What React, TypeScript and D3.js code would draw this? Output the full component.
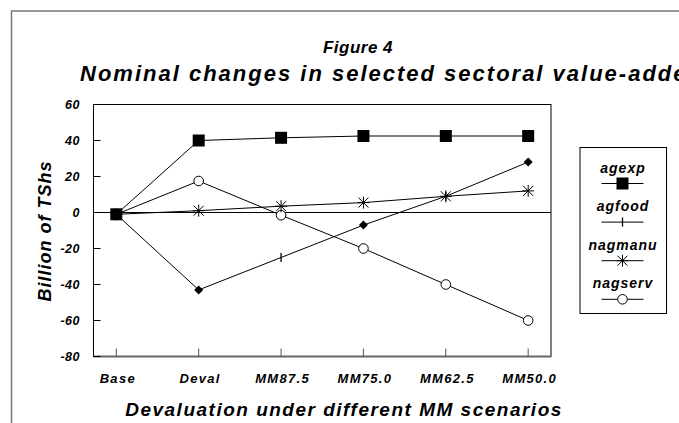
import React from "react";
import * as d3 from "d3";

const categories = ["Base", "Deval", "MM87.5", "MM75.0", "MM62.5", "MM50.0"];
const agexp = [-1, 40, 41.5, 42.5, 42.5, 42.5];
const agfood = [-1, -43, -25, -7, 9, 28];
const agfoodMarkers = ["tick", "diamond", "tick", "diamond", "tick", "diamond"];
const nagmanu = [-1, 1, 3.5, 5.5, 9, 12];
const nagserv = [-1, 17.5, -1.5, -20, -40, -60];
const yTicks = [60, 40, 20, 0, -20, -40, -60, -80];
const legendNames = ["agexp", "agfood", "nagmanu", "nagserv"];
const legendMarkers = ["square", "tick", "star", "circle"];

const W = 679;
const H = 423;
const plot = { left: 93.5, right: 551, top: 104.5, bottom: 356.5 };
const FONT = "'Liberation Sans', Arial, sans-serif";

function Marker({ type, x, y }: { type: string; x: number; y: number }) {
  if (type === "square") return <rect x={x - 6} y={y - 6} width={12} height={12} fill="#000" />;
  if (type === "diamond")
    return <path d={`M${x},${y - 4.5}L${x + 4.5},${y}L${x},${y + 4.5}L${x - 4.5},${y}Z`} fill="#000" />;
  if (type === "tick") return <line x1={x} x2={x} y1={y - 4.5} y2={y + 4.5} stroke="#000" strokeWidth={1.3} />;
  if (type === "circle") return <circle cx={x} cy={y} r={4.8} fill="#fff" stroke="#000" strokeWidth={1} />;
  if (type === "star")
    return (
      <g stroke="#000" strokeWidth={1}>
        <line x1={x - 6} x2={x + 6} y1={y} y2={y} />
        <line x1={x - 5} x2={x + 5} y1={y - 5} y2={y + 5} />
        <line x1={x - 5} x2={x + 5} y1={y + 5} y2={y - 5} />
        <line x1={x} x2={x} y1={y - 6} y2={y + 6} />
      </g>
    );
  return null;
}

export default function App() {
  const x = d3.scalePoint<string>().domain(categories).range([plot.left, plot.right]).padding(0.277);
  const y = d3.scaleLinear().domain([-80, 60]).range([plot.bottom, plot.top]);
  const line = d3
    .line<number>()
    .x((_, i) => x(categories[i]) as number)
    .y((d) => y(d));

  const series = [
    { name: "agexp", values: agexp, markers: categories.map(() => "square") },
    { name: "agfood", values: agfood, markers: agfoodMarkers },
    { name: "nagmanu", values: nagmanu, markers: categories.map(() => "star") },
    { name: "nagserv", values: nagserv, markers: categories.map(() => "circle") },
  ];
  const drawOrder = [3, 2, 1, 0];

  const textStyle = { fontFamily: FONT, fontWeight: 700, fontStyle: "italic" as const };

  return (
    <svg width={W} height={H} style={{ position: "absolute", left: 0, top: 0, background: "#fff" }}>
      <rect x={0} y={0} width={W} height={H} fill="#fff" />
      {/* outer frame */}
      <rect x={11.5} y={11} width={W + 20} height={H + 20} fill="none" stroke="#777" strokeWidth={1.5} />

      {/* titles */}
      <text x={358} y={53} textAnchor="middle" fontSize={17} letterSpacing={0.5} style={textStyle}>
        Figure 4
      </text>
      <text x={80} y={81} fontSize={22} letterSpacing={2} style={textStyle}>
        Nominal changes in selected sectoral value-added
      </text>

      {/* plot frame */}
      <rect
        x={plot.left}
        y={plot.top}
        width={plot.right - plot.left}
        height={plot.bottom - plot.top}
        fill="none"
        stroke="#000"
        strokeWidth={1}
      />
      <line x1={plot.left} x2={plot.right} y1={plot.bottom} y2={plot.bottom} stroke="#666" strokeWidth={2} />
      <line x1={plot.left} x2={plot.right} y1={y(0)} y2={y(0)} stroke="#000" strokeWidth={1} />

      {/* y axis ticks and labels */}
      {yTicks.map((t) => (
        <g key={t}>
          <line x1={plot.left} x2={plot.left + 7} y1={y(t)} y2={y(t)} stroke="#000" strokeWidth={1} />
          <text x={80} y={y(t) + 4} textAnchor="end" fontSize={12.5} letterSpacing={0.5} style={textStyle}>
            {t}
          </text>
        </g>
      ))}

      {/* x axis ticks and labels */}
      {categories.map((c) => (
        <g key={c}>
          <line x1={x(c)} x2={x(c)} y1={plot.bottom} y2={plot.bottom - 8} stroke="#555" strokeWidth={1} />
          <text x={(x(c) as number) + 1.5} y={383} textAnchor="middle" fontSize={13} letterSpacing={1.3} style={textStyle}>
            {c}
          </text>
        </g>
      ))}

      {/* axis titles */}
      <text x={344} y={416} textAnchor="middle" fontSize={19} letterSpacing={1.5} style={textStyle}>
        Devaluation under different MM scenarios
      </text>
      <text
        transform={`translate(51,231) rotate(-90)`}
        textAnchor="middle"
        fontSize={18}
        letterSpacing={1}
        style={textStyle}
      >
        Billion of TShs
      </text>

      {/* series */}
      {drawOrder.map((si) => {
        const s = series[si];
        return (
          <g key={s.name}>
            <path d={line(s.values) || ""} fill="none" stroke="#000" strokeWidth={1} />
          </g>
        );
      })}
      {drawOrder.map((si) => {
        const s = series[si];
        return (
          <g key={s.name + "-m"}>
            {s.values.map((v, i) => (
              <Marker key={i} type={s.markers[i]} x={x(categories[i]) as number} y={y(v)} />
            ))}
          </g>
        );
      })}

      {/* legend */}
      <rect x={580} y={147.5} width={86.5} height={166} fill="#fff" stroke="#000" strokeWidth={1} />
      {legendNames.map((n, i) => {
        const ly = 183.5 + i * 38.6;
        return (
          <g key={n}>
            <text x={623} y={ly - 11} textAnchor="middle" fontSize={14} letterSpacing={1} style={textStyle}>
              {n}
            </text>
            <line x1={601.5} x2={643.5} y1={ly} y2={ly} stroke="#000" strokeWidth={1} />
            <Marker type={legendMarkers[i]} x={622.5} y={ly} />
          </g>
        );
      })}
    </svg>
  );
}
